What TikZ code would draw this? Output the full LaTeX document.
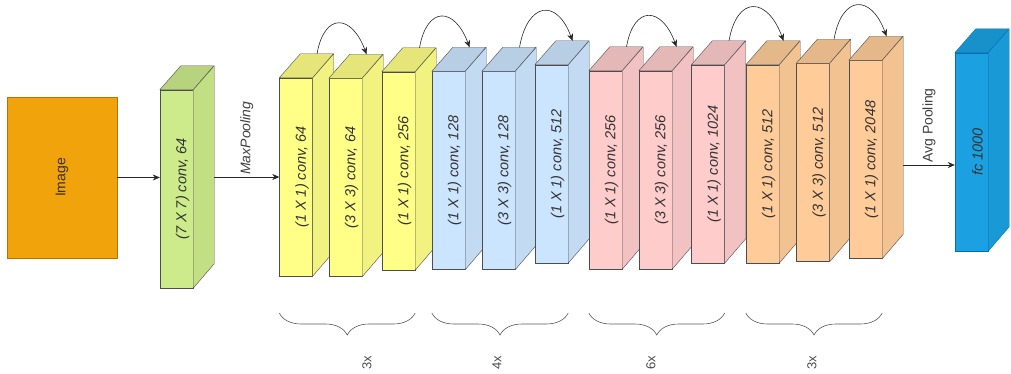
\documentclass[tikz,border=0pt]{standalone}
\usepackage{fontspec}
\setmainfont{Liberation Sans}
\usepackage{graphicx}
\usetikzlibrary{arrows.meta,decorations.pathreplacing}

\definecolor{imgfill}{HTML}{F0A30A}
\definecolor{imgline}{HTML}{BD7000}
\definecolor{grn}{HTML}{CDEB8B}
\definecolor{yel}{HTML}{FFFF88}
\definecolor{blu}{HTML}{CCE5FF}
\definecolor{pnk}{HTML}{FFCCCC}
\definecolor{org}{HTML}{FFCC99}
\definecolor{fcfill}{HTML}{1BA1E2}
\definecolor{fcline}{HTML}{006EAF}
\definecolor{edge}{HTML}{4D4D4D}

\tikzset{
  cube/.style={draw=edge, minimum width=33pt, minimum height=198pt, inner sep=0pt,
    font=\fontsize{14.5}{16}\selectfont\itshape, text=black!80},
  face/.style={draw=edge, line join=round},
  flow/.style={-{Stealth[length=7pt,width=6pt]}, semithick, black!85},
  skip/.style={-{Stealth[length=7pt,width=6pt]}, semithick, black!85, out=80, in=110, looseness=2.2},
  grp/.style={decorate, decoration={brace, mirror, amplitude=22pt}, draw=black!65, semithick},
  rep/.style={rotate=90, font=\fontsize{13}{15}\selectfont, text=black!70},
}

\begin{document}
\begin{tikzpicture}[x=1pt, y=1pt]
  \useasboundingbox (0,0) rectangle (1011,373);

  % input
  \node[draw=imgline, fill=imgfill, minimum width=110pt, minimum height=161pt,
    font=\fontsize{14}{16}\selectfont, text=black!80] (img) at (62,195.5) {\rotatebox{90}{Image}};

  % conv blocks, drawn left to right so each one covers the previous side face
  \foreach \n/\x/\y/\c/\t in {
      g1/176.5/184/grn/{(7 X 7) conv, 64},
      y1/296/196/yel/{(1 X 1) conv, 64},
      y2/345.5/195.5/yel/{(3 X 3) conv, 64},
      y3/398.5/202/yel/{(1 X 1) conv, 256},
      b1/448.5/202.5/blu/{(1 X 1) conv, 128},
      b2/498.5/202.5/blu/{(3 X 3) conv, 128},
      b3/551.5/209/blu/{(1 X 1) conv, 512},
      p1/605.5/203/pnk/{(1 X 1) conv, 256},
      p2/655.5/203/pnk/{(3 X 3) conv, 256},
      p3/708/209/pnk/{(1 X 1) conv, 1024},
      o1/762.5/209/org/{(1 X 1) conv, 512},
      o2/813/210.5/org/{(3 X 3) conv, 512},
      o3/865.5/213.5/org/{(1 X 1) conv, 2048}} {
    \node[cube, fill=\c] (\n) at (\x,\y) {\hspace*{12pt}\rotatebox{90}{\t}};
    \draw[face, fill=\c!90!black] (\n.north west) -- ++(21,24) -- ++(33,0) -- (\n.north east) -- cycle;
    \draw[face, fill=\c!95!black] (\n.north east) -- ++(21,24) -- ++(0,-198) -- (\n.south east) -- cycle;
    \coordinate (\n-top) at ([shift={(21,24)}]\n.north);
  }

  % fully connected
  \node[cube, draw=fcline, fill=fcfill, text=black!80] (fc) at (971.5,221) {\hspace*{12pt}\rotatebox{90}{fc 1000}};
  \draw[face, draw=fcline, fill=fcfill!90!black] (fc.north west) -- ++(21,24) -- ++(33,0) -- (fc.north east) -- cycle;
  \draw[face, draw=fcline, fill=fcfill!95!black] (fc.north east) -- ++(21,24) -- ++(0,-198) -- (fc.south east) -- cycle;

  % main flow
  \draw[flow] (img.east) -- (img.east -| g1.west);
  \path (g1.east) ++(21,0) coordinate (g1-back);
  \draw[flow] (g1-back |- y1.west) -- (y1.west)
    node[midway, rotate=90, anchor=west, inner sep=2pt, font=\fontsize{14}{16}\selectfont\itshape, text=black!75] (mp) {MaxPooling};
  \path (o3.east) ++(21,0) coordinate (o3-back);
  \coordinate (fc-in) at ([yshift=-13pt]fc.west);
  \draw[flow] (o3-back |- fc-in) -- (fc-in)
    node[midway, rotate=90, anchor=west, inner sep=2pt, font=\fontsize{14}{16}\selectfont, text=black!75] (ap) {Avg Pooling};

  % shortcuts
  \draw[skip] (y1-top) to (y2-top);
  \draw[skip] (y3-top) to (b1-top);
  \draw[skip] (b2-top) to (b3-top);
  \draw[skip] (p1-top) to (p2-top);
  \draw[skip] (p3-top) to (o1-top);
  \draw[skip] (o2-top) to (o3-top);

  % repeat counts
  \coordinate (grp-y) at (0,60);
  \draw[grp] (y1.west |- grp-y) -- (y3.east |- grp-y);
  \draw[grp] (b1.west |- grp-y) -- (b3.east |- grp-y);
  \draw[grp] (p1.west |- grp-y) -- (p3.east |- grp-y);
  \draw[grp] (o1.west |- grp-y) -- (o3.east |- grp-y);
  \node[rep] (r1) at (367,10) {3x};
  \node[rep] (r2) at (497,10) {4x};
  \node[rep] (r3) at (651,10) {6x};
  \node[rep] (r4) at (812,10) {3x};
\end{tikzpicture}
\end{document}
